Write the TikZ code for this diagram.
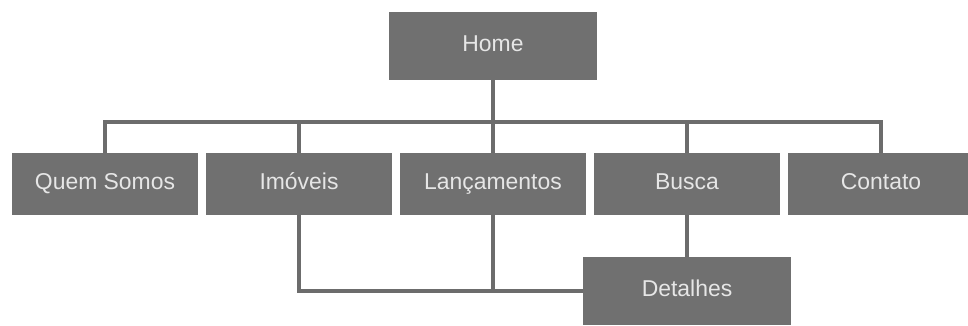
\documentclass[tikz,border=0pt]{standalone}
\usepackage{fontspec}
\setmainfont{Liberation Sans}
\definecolor{boxgray}{HTML}{707070}
\definecolor{linegray}{HTML}{6C6C6C}
\definecolor{labelgray}{HTML}{E6E6E6}
\tikzset{
  pagebox/.style={fill=boxgray, text=labelgray, inner sep=0pt,
    text height=12pt, text depth=3.5pt,
    font=\fontsize{16.3}{19}\selectfont},
  topbox/.style={pagebox, minimum width=5.2cm, minimum height=1.7cm},
  menubox/.style={pagebox, minimum width=4.65cm, minimum height=1.55cm},
  link/.style={draw=linegray, line width=2.5pt}
}
\begin{document}
\begin{tikzpicture}[x=0.025cm,y=-0.025cm]
    \useasboundingbox (0,0) rectangle (968,325);
    \fill[white] (0,0) rectangle (968,325);
    \node[topbox] (home) at (493,46) {Home};
    \foreach \name/\label [count=\i] in {quem/Quem Somos, imoveis/Imóveis,
        lancamentos/Lançamentos, busca/Busca, contato/Contato}
    {
        \node[menubox] (\name) at (105+194*\i-194,184) {\label};
    }
    \node[topbox] (detalhes) at (687,291) {Detalhes};
    \coordinate (bus) at (493,122);
    \draw[link] (home) -- (home |- bus);
    \draw[link] (quem) |- (bus) -| (contato);
    \foreach \name in {imoveis,lancamentos,busca}
    {
        \draw[link] (\name) -- (\name |- bus);
    }
    \draw[link] (imoveis) |- (detalhes);
    \draw[link] (lancamentos) -- (lancamentos |- detalhes);
    \draw[link] (busca) -- (detalhes);
\end{tikzpicture}
\end{document}
